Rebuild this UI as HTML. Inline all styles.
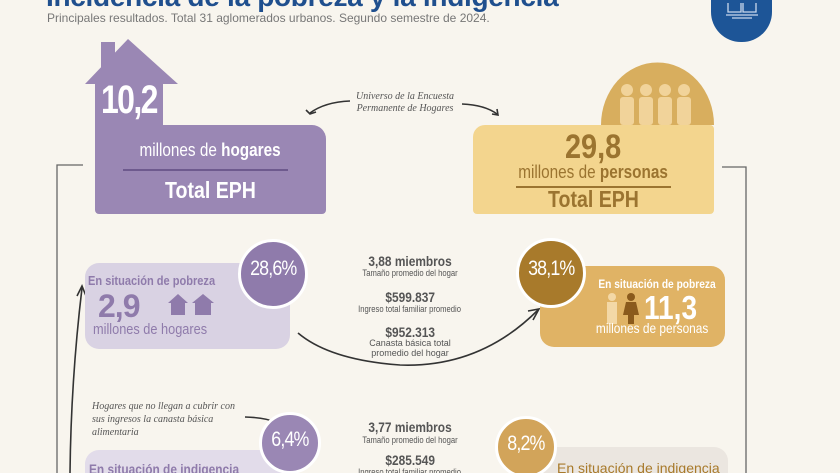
<!DOCTYPE html>
<html><head><meta charset="utf-8"><style>
*{margin:0;padding:0;box-sizing:border-box}
html,body{width:840px;height:473px;overflow:hidden}
body{background:#f8f5ee;position:relative;font-family:"Liberation Sans",sans-serif}
.a{position:absolute;white-space:nowrap}
.c{text-align:center}
.serif{font-family:"Liberation Serif",serif;font-style:italic;color:#555}
.n{display:inline-block;transform:scaleX(0.85)}
</style></head><body>
<div class="a" style="left:46px;top:-19px;font-size:28px;font-weight:bold;color:#1f4f8e;letter-spacing:-0.3px">Incidencia de la pobreza y la indigencia</div>
<div class="a" style="left:47px;top:11px;font-size:12px;color:#777">Principales resultados. Total 31 aglomerados urbanos. Segundo semestre de 2024.</div>
<div class="a" style="left:711px;top:-20px;width:61px;height:62px;background:#1d5597;border-radius:0 0 30px 30px"></div>
<svg class="a" style="left:722px;top:0" width="40" height="22"><g fill="none" stroke="#c9d8ec" stroke-width="1.3"><path d="M6,3 L6,12 L19,12 L19,3 M21,3 L21,12 L34,12 L34,3"/><path d="M4,15 H36 M10,18 H30"/></g></svg>

<svg class="a" style="left:0;top:0" width="840" height="473">
<rect x="101" y="42" width="14" height="30" fill="#9a87b4"/>
<polygon points="85,84 128,39 178,84 163,84 163,126 95,126 95,84" fill="#9a87b4"/>
<path d="M601,125 A56,62 0 0 1 714,125 Z" fill="#d8ae5e"/>
<g fill="#f1d39a">
<circle cx="627" cy="90" r="6"/><rect x="620" y="97" width="14" height="28" rx="3"/>
<circle cx="646" cy="90" r="6"/><rect x="639" y="97" width="14" height="28" rx="3"/>
<circle cx="665" cy="90" r="6"/><rect x="658" y="97" width="14" height="28" rx="3"/>
<circle cx="684" cy="90" r="6"/><rect x="677" y="97" width="14" height="28" rx="3"/>
</g>
<g fill="none" stroke="#666" stroke-width="1.3">
<polyline points="83,165 57,165 57,473"/>
<polyline points="722,167 746,167 746,473"/>
</g>
<g fill="none" stroke="#333" stroke-width="1.6">
<path d="M350,101 Q325,102 310,113"/><path d="M306,110 L310,114 L316,112"/>
<path d="M462,104 Q485,105 497,114"/><path d="M492,114 L498,115 L497,109"/>
<path d="M298,333 Q330,360 400,365 Q480,368 538,310"/><path d="M528,311 L539,309 L533,320"/>
<path d="M245,417 Q280,418 288,432"/><path d="M282,428 L288,434 L291,426"/>
<path d="M70,473 Q71,380 82,288"/><path d="M77,296 L82,286 L86,296"/>
</g>
</svg>
<div class="a c" style="left:90px;top:78px;width:78px;font-size:40px;font-weight:bold;color:#fff;letter-spacing:-2px"><span class="n" style="transform:scaleX(0.8)">10,2</span></div>
<div class="a" style="left:95px;top:125px;width:231px;height:89px;background:#9a87b4;border-radius:0 14px 4px 4px"></div>
<div class="a c" style="left:95px;top:140px;width:231px;font-size:18px;color:#fff"><span class="n">millones de <b>hogares</b></span></div>
<div class="a" style="left:123px;top:169px;width:165px;height:2px;background:#6e5a8e"></div>
<div class="a c" style="left:95px;top:177px;width:231px;font-size:23px;font-weight:bold;color:#fff"><span class="n">Total EPH</span></div>

<div class="a" style="left:473px;top:125px;width:241px;height:89px;background:#f3d58e;border-radius:12px 4px 4px 4px"></div>
<div class="a c" style="left:473px;top:128px;width:241px;font-size:34px;font-weight:bold;color:#9b7430"><span class="n">29,8</span></div>
<div class="a c" style="left:473px;top:162px;width:241px;font-size:18px;color:#9b7430"><span class="n">millones de <b>personas</b></span></div>
<div class="a" style="left:516px;top:186px;width:155px;height:1.5px;background:#9b7430"></div>
<div class="a c" style="left:473px;top:186px;width:241px;font-size:23px;font-weight:bold;color:#9b7430"><span class="n">Total EPH</span></div>

<div class="a c serif" style="left:340px;top:91px;width:130px;font-size:10px;line-height:12px">Universo de la Encuesta<br>Permanente de Hogares</div>

<div class="a" style="left:85px;top:263px;width:205px;height:86px;background:#d9d2e3;border-radius:14px"></div>
<div class="a" style="left:238px;top:239px;width:70px;height:70px;border-radius:50%;background:#8f7bab;border:3px solid #fff"></div>
<div class="a c" style="left:238px;top:257px;width:70px;font-size:21px;color:#fff;letter-spacing:-1px"><span class="n">28,6%</span></div>
<div class="a" style="left:88px;top:273px;font-size:13px;font-weight:bold;color:#8f7bab"><span class="n" style="transform-origin:left">En situación de pobreza</span></div>
<div class="a" style="left:98px;top:288px;font-size:32px;font-weight:bold;color:#8f7bab;letter-spacing:-1px">2,9</div>
<svg class="a" style="left:166px;top:294px" width="52" height="22"><g fill="#8f7bab"><polygon points="2,9 12,0 22,9 19,9 19,21 5,21 5,9"/><polygon points="26,9 37,0 48,9 45,9 45,21 29,21 29,9"/></g></svg>
<div class="a" style="left:93px;top:321px;font-size:15px;color:#8f7bab"><span class="n" style="transform-origin:left">millones de hogares</span></div>

<div class="a c" style="left:330px;top:253px;width:160px;font-size:14px;font-weight:bold;color:#555"><span class="n">3,88 miembros</span></div>
<div class="a c" style="left:330px;top:268px;width:160px;font-size:9px;color:#555"><span class="n">Tamaño promedio del hogar</span></div>
<div class="a c" style="left:330px;top:289px;width:160px;font-size:14px;font-weight:bold;color:#555"><span class="n">$599.837</span></div>
<div class="a c" style="left:330px;top:304px;width:160px;font-size:9px;color:#555"><span class="n">Ingreso total familiar promedio</span></div>
<div class="a c" style="left:330px;top:324px;width:160px;font-size:14px;font-weight:bold;color:#555"><span class="n">$952.313</span></div>
<div class="a c" style="left:330px;top:338px;width:160px;font-size:9px;color:#555;line-height:10px">Canasta básica total<br>promedio del hogar</div>

<div class="a" style="left:540px;top:266px;width:185px;height:81px;background:#e0b365;border-radius:14px"></div>
<div class="a" style="left:516px;top:238px;width:70px;height:70px;border-radius:50%;background:#a87a2b;border:3px solid #fff"></div>
<div class="a c" style="left:516px;top:257px;width:70px;font-size:21px;color:#fff;letter-spacing:-1px"><span class="n">38,1%</span></div>
<div class="a c" style="left:588px;top:277px;width:137px;font-size:12px;font-weight:bold;color:#fff"><span class="n">En situación de pobreza</span></div>
<svg class="a" style="left:604px;top:293px" width="36" height="32"><circle cx="8" cy="4" r="4" fill="#f3d8a6"/><rect x="3" y="9" width="10" height="22" fill="#f3d8a6"/><circle cx="27" cy="4" r="4" fill="#8a5a1c"/><polygon points="22,9 32,9 35,22 30,22 30,31 24,31 24,22 19,22" fill="#8a5a1c"/></svg>
<div class="a" style="left:644px;top:289px;font-size:33px;font-weight:bold;color:#fff"><span class="n" style="transform-origin:left">11,3</span></div>
<div class="a c" style="left:580px;top:320px;width:145px;font-size:14px;color:#fff"><span class="n">millones de personas</span></div>

<div class="a serif" style="left:92px;top:400px;font-size:10px;line-height:13px">Hogares que no llegan a cubrir con<br>sus ingresos la canasta básica<br>alimentaria</div>
<div class="a" style="left:85px;top:450px;width:200px;height:40px;background:#e2dcea;border-radius:14px"></div>
<div class="a" style="left:89px;top:461px;font-size:14px;font-weight:bold;color:#8f7bab"><span class="n" style="transform-origin:left">En situación de indigencia</span></div>
<div class="a" style="left:259px;top:412px;width:62px;height:62px;border-radius:50%;background:#9a87b4;border:3px solid #fff"></div>
<div class="a c" style="left:259px;top:428px;width:62px;font-size:21px;color:#fff;letter-spacing:-1px"><span class="n">6,4%</span></div>

<div class="a c" style="left:330px;top:419px;width:160px;font-size:14px;font-weight:bold;color:#555"><span class="n">3,77 miembros</span></div>
<div class="a c" style="left:330px;top:435px;width:160px;font-size:9px;color:#555"><span class="n">Tamaño promedio del hogar</span></div>
<div class="a c" style="left:330px;top:452px;width:160px;font-size:14px;font-weight:bold;color:#555"><span class="n">$285.549</span></div>
<div class="a c" style="left:330px;top:467px;width:160px;font-size:9px;color:#555"><span class="n">Ingreso total familiar promedio</span></div>

<div class="a" style="left:540px;top:447px;width:188px;height:40px;background:#ebe6e0;border-radius:14px"></div>
<div class="a" style="left:495px;top:416px;width:62px;height:62px;border-radius:50%;background:#d2a45a;border:3px solid #fff"></div>
<div class="a c" style="left:495px;top:432px;width:62px;font-size:21px;color:#fff;letter-spacing:-1px"><span class="n">8,2%</span></div>
<div class="a" style="left:557px;top:460px;font-size:14px;color:#a87a2b">En situación de indigencia</div>
</body></html>
